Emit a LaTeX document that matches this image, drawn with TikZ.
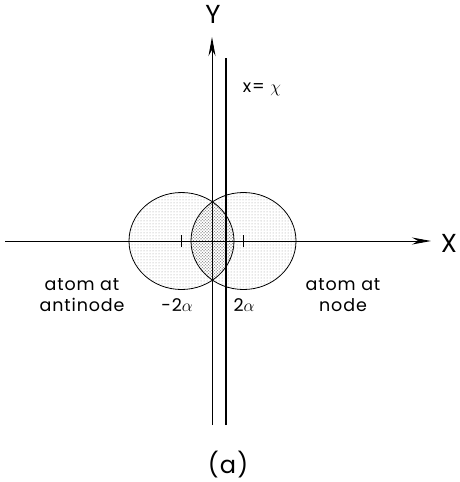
\documentclass[tikz,border=0pt]{standalone}
\usepackage{fontspec}
\setmainfont{Poppins}[LetterSpace=5]
\usetikzlibrary{patterns,arrows.meta}
\begin{document}
\begin{tikzpicture}[x=1pt,y=-1pt,
  axis/.style={line width=0.9pt,-{Stealth[length=19pt,width=7pt]}},
  wall/.style={line width=2.4pt},
  lobe/.style={line width=0.8pt},
  tickmark/.style={line width=0.8pt},
  lbl/.style={font=\fontsize{17.5}{21}\selectfont,align=center,inner sep=0pt},
  big/.style={font=\fontsize{26}{26}\selectfont,inner sep=0pt}]
\useasboundingbox (0,0) rectangle (460,482);
% coordinates
\coordinate (xs) at (5,241);
\coordinate (xe) at (431,241);
\coordinate (ys) at (212,425);
\coordinate (ye) at (212,37);
\coordinate (ws) at (226,425);
\coordinate (we) at (226,58);
\coordinate (cl) at (181.5,241);
\coordinate (cr) at (243.5,241);
% fills
\fill[pattern=dots,pattern color=black!40] (cl) ellipse [x radius=52.5pt,y radius=48.5pt];
\fill[pattern=dots,pattern color=black!40] (cr) ellipse [x radius=52.5pt,y radius=48.5pt];
\begin{scope}
  \clip (cl) ellipse [x radius=52.5pt,y radius=48.5pt];
  \fill[pattern=crosshatch dots,pattern color=black!50] (cr) ellipse [x radius=52.5pt,y radius=48.5pt];
\end{scope}
% circles
\draw[lobe] (cl) ellipse [x radius=52.5pt,y radius=48.5pt];
\draw[lobe] (cr) ellipse [x radius=52.5pt,y radius=48.5pt];
% ticks
\draw[tickmark] ([yshift=-6pt]cl) -- ([yshift=6pt]cl);
\draw[tickmark] ([yshift=-6pt]cr) -- ([yshift=6pt]cr);
% axes
\draw[axis] (xs) -- (xe);
\draw[axis] (ys) -- (ye);
\draw[wall] (ws) -- (we);
% labels
\node[big] (Y) at (213,14) {Y};
\node[big] (X) at (449,243) {X};
\node[lbl] (chi) at (262,89) {x= $\chi$};
\node[lbl] (anti) at (82,295) {atom at\\antinode};
\node[lbl] (node) at (343,295) {atom at\\node};
\node[lbl] (m2a) at (177,305) {-2$\alpha$};
\node[lbl] (p2a) at (244,305) {2$\alpha$};
\node[font=\fontsize{24}{24}\selectfont,inner sep=0pt] (a) at (228,465) {(a)};
\end{tikzpicture}
\end{document}
